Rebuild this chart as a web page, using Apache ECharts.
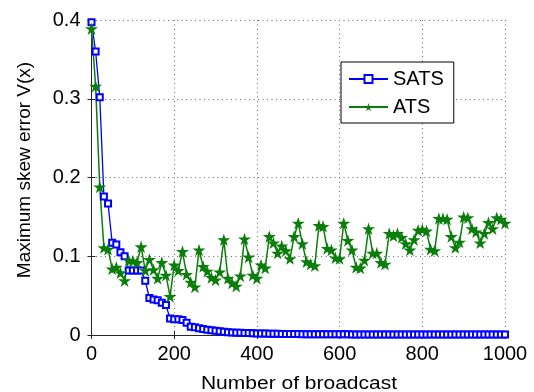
<!DOCTYPE html>
<html>
<head>
<meta charset="utf-8">
<script src="https://cdn.jsdelivr.net/npm/echarts@6/dist/echarts.min.js"></script>
<style>
  html, body { margin: 0; padding: 0; background: #fff; }
  #chart { width: 534px; height: 392px; }
</style>
</head>
<body>
<div id="chart"></div>
<script>
// number of broadcasts at which each error was sampled
const broadcasts = [
  0, 10, 20, 30, 40, 50, 60, 70, 80, 90,
  100, 110, 120, 130, 140, 150, 160, 170, 180, 190,
  200, 210, 220, 230, 240, 250, 260, 270, 280, 290,
  300, 310, 320, 330, 340, 350, 360, 370, 380, 390,
  400, 410, 420, 430, 440, 450, 460, 470, 480, 490,
  500, 510, 520, 530, 540, 550, 560, 570, 580, 590,
  600, 610, 620, 630, 640, 650, 660, 670, 680, 690,
  700, 710, 720, 730, 740, 750, 760, 770, 780, 790,
  800, 810, 820, 830, 840, 850, 860, 870, 880, 890,
  900, 910, 920, 930, 940, 950, 960, 970, 980, 990,
  1000
];

const satsError = [
  0.397, 0.360, 0.302, 0.176, 0.167, 0.117, 0.115, 0.105, 0.100, 0.082,
  0.082, 0.082, 0.082, 0.069, 0.047, 0.045, 0.044, 0.041, 0.038, 0.021,
  0.020, 0.020, 0.019, 0.0156, 0.0105, 0.0098, 0.0085, 0.0076, 0.0068, 0.0060,
  0.0055, 0.0048, 0.0042, 0.0036, 0.0032, 0.0030, 0.0028, 0.0026, 0.0024, 0.0022,
  0.0020, 0.0019, 0.0018, 0.0017, 0.0016, 0.0015, 0.0014, 0.0014, 0.0013, 0.0012,
  0.0012, 0.0011, 0.0011, 0.0010, 0.0010, 0.0010, 0.0009, 0.0009, 0.0009, 0.0008,
  0.0008, 0.0008, 0.0008, 0.0007, 0.0007, 0.0007, 0.0007, 0.0007, 0.0006, 0.0006,
  0.0006, 0.0006, 0.0006, 0.0006, 0.0006, 0.0005, 0.0005, 0.0005, 0.0005, 0.0005,
  0.0005, 0.0005, 0.0005, 0.0005, 0.0005, 0.0005, 0.0005, 0.0005, 0.0005, 0.0005,
  0.0005, 0.0005, 0.0005, 0.0005, 0.0005, 0.0005, 0.0005, 0.0005, 0.0005, 0.0005,
  0.0005
];

const atsError = [
  0.389, 0.316, 0.188, 0.111, 0.109, 0.084, 0.086, 0.079, 0.069, 0.095,
  0.094, 0.092, 0.112, 0.082, 0.096, 0.083, 0.072, 0.092, 0.076, 0.049,
  0.089, 0.082, 0.106, 0.077, 0.067, 0.061, 0.108, 0.087, 0.081, 0.073,
  0.070, 0.080, 0.121, 0.072, 0.066, 0.062, 0.075, 0.122, 0.099, 0.076,
  0.072, 0.089, 0.085, 0.125, 0.117, 0.104, 0.113, 0.107, 0.097, 0.125,
  0.142, 0.116, 0.093, 0.090, 0.088, 0.139, 0.138, 0.110, 0.108, 0.098,
  0.097, 0.142, 0.120, 0.108, 0.086, 0.085, 0.095, 0.135, 0.104, 0.104,
  0.092, 0.090, 0.129, 0.126, 0.129, 0.124, 0.116, 0.108, 0.121, 0.133,
  0.134, 0.132, 0.109, 0.107, 0.148, 0.148, 0.147, 0.125, 0.111, 0.118,
  0.150, 0.149, 0.135, 0.131, 0.117, 0.129, 0.143, 0.135, 0.149, 0.147,
  0.142
];

const xTicks = { min: 0, max: 1000, interval: 200 };
const yTicks = { min: 0, max: 0.4, interval: 0.1 };

const FONT = '"Liberation Sans", Arial, sans-serif';
const STAR = 'path://M50,0 L61,35 L98,35 L68,57 L79,91 L50,70 L21,91 L32,57 L2,35 L39,35 Z';

const pairs = (ys) => broadcasts.map((x, i) => [x, ys[i]]);

const axisLine = { show: true, lineStyle: { color: '#262626', width: 1 } };
const tick = { show: true, inside: true, length: 4, lineStyle: { color: '#262626' } };
const gridDots = { show: true, lineStyle: { color: '#6a6a6a', width: 1, type: [1, 3.5] } };

const chart = echarts.init(document.getElementById('chart'));
chart.setOption({
  animation: false,
  backgroundColor: '#fff',
  textStyle: { fontFamily: FONT },
  grid: { left: 91.5, right: 29, top: 20, bottom: 57, containLabel: false },
  graphic: [{
    // panel label, mostly cropped off the top edge in the source
    type: 'text', x: 287, y: -20,
    style: { text: '(a)', fontSize: 20, fontFamily: FONT, fill: '#000', align: 'center', verticalAlign: 'top' }
  }, {
    // x axis title (the source figure is slightly stretched horizontally)
    type: 'text', x: 299, y: 375, scaleX: 1.2,
    style: { text: 'Number of broadcast', fontSize: 17.5, fontFamily: FONT, fill: '#000', align: 'center', verticalAlign: 'top' }
  }, {
    type: 'text', x: 25, y: 170, rotation: Math.PI / 2,
    style: { text: 'Maximum skew error V(x)', fontSize: 19, fontFamily: FONT, fill: '#000', align: 'center', verticalAlign: 'middle' }
  }],
  legend: {
    left: 341, top: 62,
    orient: 'vertical',
    backgroundColor: '#fff',
    borderColor: '#000', borderWidth: 1,
    padding: [7, 10, 6, 7],
    itemWidth: 39, itemHeight: 10, itemGap: 8,
    textStyle: { fontSize: 20, fontFamily: FONT, color: '#000', lineHeight: 20 },
    data: ['SATS', 'ATS']
  },
  xAxis: [{
    type: 'value', ...xTicks,
    axisLine, axisTick: tick,
    axisLabel: { fontSize: 20, fontFamily: FONT, color: '#000', margin: 9, formatter: (v) => String(v) },
    splitLine: gridDots
  }, {
    type: 'value', ...xTicks, position: 'top',
    axisLine, axisTick: tick,
    axisLabel: { show: false }, splitLine: { show: false }
  }],
  yAxis: [{
    type: 'value', ...yTicks,
    axisLine, axisTick: tick,
    axisLabel: { fontSize: 20, fontFamily: FONT, color: '#000', margin: 11, formatter: (v) => String(v) },
    splitLine: gridDots
  }, {
    type: 'value', ...yTicks, position: 'right',
    axisLine, axisTick: tick,
    axisLabel: { show: false }, splitLine: { show: false }
  }],
  series: [{
    name: 'SATS', type: 'line',
    data: pairs(satsError),
    symbol: 'emptyRect', symbolSize: 6, showAllSymbol: true,
    lineStyle: { color: '#0000ff', width: 1.3 },
    itemStyle: { color: '#0000ff', borderWidth: 1 }
  }, {
    name: 'ATS', type: 'line',
    data: pairs(atsError),
    symbol: STAR, symbolSize: [13, 12.5], showAllSymbol: true,
    lineStyle: { color: '#0a7d0a', width: 1.5 },
    itemStyle: { color: '#0a7d0a' }
  }]
});
</script>
</body>
</html>
